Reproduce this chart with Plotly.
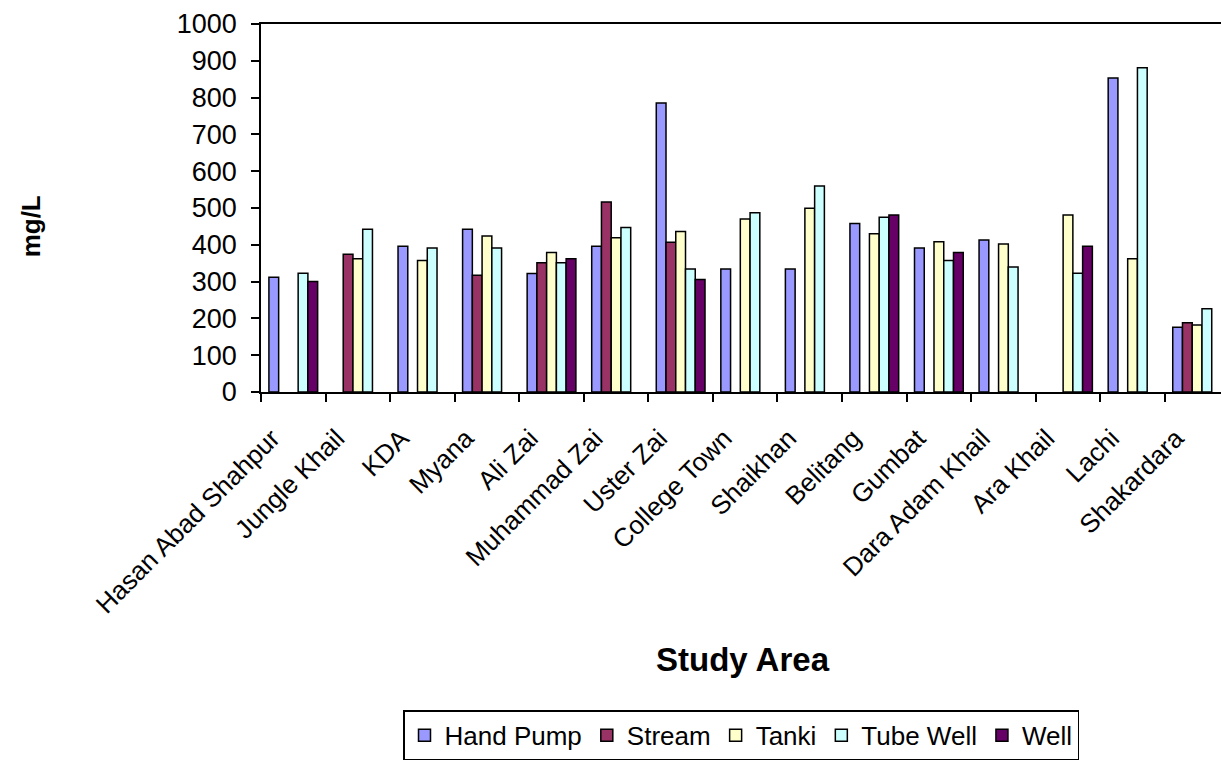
import plotly.graph_objects as go

# data
areas = ["Hasan Abad Shahpur", "Jungle Khail", "KDA", "Myana", "Ali Zai",
         "Muhammad Zai", "Uster Zai", "College Town", "Shaikhan", "Belitang",
         "Gumbat", "Dara Adam Khail", "Ara Khail", "Lachi", "Shakardara"]

hand_pump = [312, None, 396, 442, 322, 396, 785, 334, 334, 458, 391, 413, None, 853, 176]
stream = [None, 374, None, 317, 351, 516, 407, None, None, None, None, None, None, None, 188]
tanki = [None, 362, 357, 424, 379, 419, 436, 470, 499, 430, 408, 402, 481, 362, 182]
tube_well = [323, 442, 391, 391, 351, 447, 334, 487, 560, 475, 357, 340, 323, 881, 226]
well = [300, None, None, None, 362, None, 306, None, None, 481, 379, None, 396, None, None]

series = [
    ("Hand Pump", hand_pump, "#9999FF"),
    ("Stream", stream, "#993366"),
    ("Tanki", tanki, "#FFFFCC"),
    ("Tube Well", tube_well, "#CCFFFF"),
    ("Well", well, "#660066"),
]

FONT = "Liberation Sans, Arial, sans-serif"

fig = go.Figure()
for name, vals, color in series:
    fig.add_trace(go.Bar(x=areas, y=vals, name=name,
                         marker=dict(color=color, line=dict(color="black", width=1.5))))

# plot area is 261..1221 px wide, 24..395 px tall
W, H = 1221, 761
L, R, T, B = 261, 0, 24, 366
pw, ph = W - L - R, H - T - B


def px(xp):
    return (xp - L) / pw


def py(yp):
    return (H - B - yp) / ph


fig.update_layout(
    width=W, height=H,
    margin=dict(l=L, r=R, t=T, b=B),
    paper_bgcolor="white", plot_bgcolor="white",
    font=dict(family=FONT, color="black", size=26),
    barmode="group", bargap=0.245, bargroupgap=0,
    showlegend=True,
    legend=dict(orientation="h", x=0.5, xanchor="center", y=py(716), yanchor="top",
                bordercolor="black", borderwidth=1.5, font=dict(size=26),
                itemwidth=30, traceorder="normal"),
    xaxis=dict(range=[-0.5, 14.37], tickangle=-45, tickson="boundaries",
               ticks="outside", ticklen=8, tickwidth=1.5, tickcolor="black",
               showline=True, linecolor="black", linewidth=1.5, mirror=True,
               showgrid=False, tickfont=dict(size=26),
               ticklabelshift=-21, ticklabelstandoff=19),
    yaxis=dict(range=[0, 1000], dtick=100, ticks="outside", ticklen=8, tickwidth=1.5,
               tickcolor="black", showline=True, linecolor="black", linewidth=1.5,
               showgrid=False, zeroline=False, tickfont=dict(size=27),
               ticklabelstandoff=9),
    annotations=[
        dict(text="<b>mg/L</b>", xref="paper", yref="paper", x=px(31), y=py(228),
             xanchor="center", yanchor="middle",
             textangle=-90, showarrow=False, font=dict(size=26)),
        dict(text="<b>Study Area</b>", xref="paper", yref="paper", x=px(743), y=py(665),
             xanchor="center", yanchor="middle",
             showarrow=False, font=dict(size=33)),
    ],
)

fig.write_html("out.html", config={"displayModeBar": False},
               post_script="document.body.style.margin='0px';"
                           "document.body.style.overflow='hidden';")
